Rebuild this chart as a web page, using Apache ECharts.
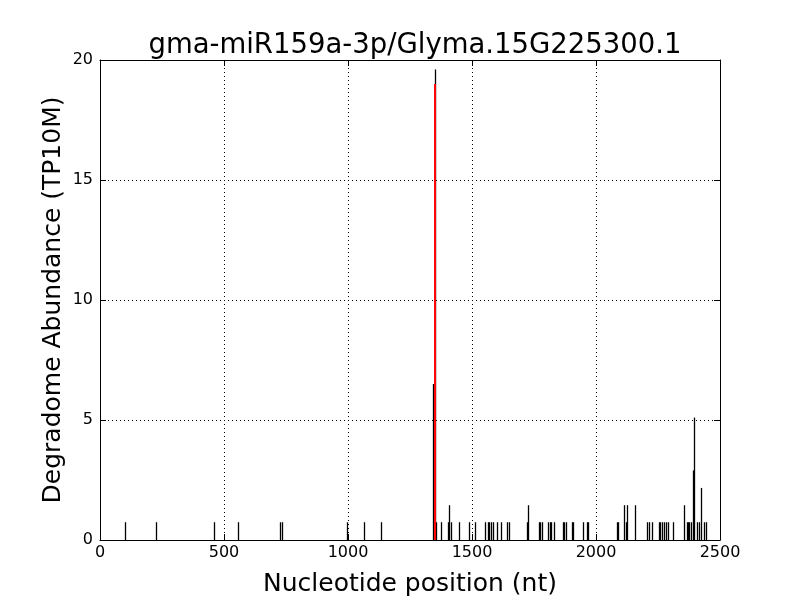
<!DOCTYPE html>
<html><head><meta charset="utf-8">
<script src="https://cdn.jsdelivr.net/npm/echarts@6/dist/echarts.min.js"></script>
<style>html,body{margin:0;padding:0;background:#fff}#c{width:800px;height:600px}</style>
</head><body><div id="c"></div>
<script>
const titleText = "gma-miR159a-3p/Glyma.15G225300.1";
const xName = "Nucleotide position (nt)";
const yName = "Degradome Abundance (TP10M)";
const xTicks = [0, 500, 1000, 1500, 2000, 2500];
const yTicks = [0, 5, 10, 15, 20];
// degradome peaks: position (nt), abundance (TP10M)
const positions = [102, 227, 462, 558, 727, 737, 996, 1066, 1136,
  1344, 1351, 1356, 1376, 1406, 1411, 1419, 1449, 1488, 1515, 1554, 1565, 1570, 1577, 1585, 1602, 1617, 1642, 1650,
  1724, 1728, 1772, 1777, 1784, 1808, 1815, 1821, 1831, 1867, 1874, 1882, 1904, 1911, 1949, 1965, 1970,
  2086, 2091, 2113, 2124, 2128, 2161, 2208, 2215, 2227, 2255, 2262, 2269, 2277, 2285, 2293, 2312,
  2355, 2368, 2374, 2379, 2386, 2393, 2396, 2409, 2417, 2427, 2437, 2444];
const abundance = [0.74, 0.74, 0.74, 0.74, 0.74, 0.74, 0.74, 0.74, 0.74,
  6.5, 19.6, 0.74, 0.74, 0.74, 1.45, 0.74, 0.74, 0.74, 0.74, 0.74, 0.74, 0.74, 0.74, 0.74, 0.74, 0.74, 0.74, 0.74,
  0.74, 1.45, 0.74, 0.74, 0.74, 0.74, 0.74, 0.74, 0.74, 0.74, 0.74, 0.74, 0.74, 0.74, 0.74, 0.74, 0.74,
  0.74, 0.74, 1.45, 0.74, 1.45, 1.45, 0.74, 0.74, 0.74, 0.74, 0.74, 0.74, 0.74, 0.74, 0.74, 0.74,
  1.45, 0.74, 0.74, 0.74, 0.74, 2.9, 5.1, 0.74, 0.74, 2.17, 0.74, 0.74];
// miRNA target cleavage site
const sitePosition = [1351];
const siteAbundance = [19.0];

const peaks = positions.map((p, i) => [p, abundance[i]]);
const site = sitePosition.map((p, i) => [p, siteAbundance[i]]);

function lineRenderer(color, width, snap) {
  return function (params, api) {
    const x = api.value(0), y = api.value(1);
    const p0 = api.coord([x, 0]);
    const p1 = api.coord([x, y]);
    const px = snap ? Math.floor(p0[0]) + 0.5 : p0[0];
    return {
      type: 'line',
      shape: { x1: px, y1: p0[1], x2: px, y2: p1[1] },
      style: { stroke: color, lineWidth: width }
    };
  };
}

const font = 'DejaVu Sans';
const plain = v => String(v);
const axisBase = {
  axisLine: { show: true, onZero: false, lineStyle: { color: '#000', width: 1 } },
  axisTick: { show: true, inside: true, length: 6, lineStyle: { color: '#000' } },
  splitLine: { show: false }
};
const chart = echarts.init(document.getElementById('c'), null, { renderer: 'canvas' });
chart.setOption({
  animation: false,
  backgroundColor: '#fff',
  title: { text: titleText, left: 410, top: 27, textAlign: 'center',
    textStyle: { fontFamily: font, fontSize: 27.5, fontWeight: 'normal', color: '#000' } },
  grid: { left: 100, right: 80, top: 60, bottom: 60, containLabel: false, outerBoundsMode: 'none' },
  xAxis: [
    Object.assign({}, axisBase, { type: 'value', min: xTicks[0], max: xTicks[xTicks.length - 1], interval: 500,
      position: 'bottom', name: xName, nameLocation: 'middle', nameGap: 32, nameMoveOverlap: false,
      nameTextStyle: { fontFamily: font, fontSize: 25, color: '#000' },
      axisLabel: { fontFamily: font, fontSize: 16, color: '#000', margin: 5, formatter: plain },
      splitLine: { show: true, lineStyle: { color: '#000', type: [1, 3], width: 1 } } }),
    Object.assign({}, axisBase, { type: 'value', min: xTicks[0], max: xTicks[xTicks.length - 1], interval: 500,
      position: 'top', axisLabel: { show: false } })
  ],
  yAxis: [
    Object.assign({}, axisBase, { type: 'value', min: yTicks[0], max: yTicks[yTicks.length - 1], interval: 5,
      position: 'left', name: yName, nameLocation: 'middle', nameGap: 34, nameMoveOverlap: false,
      nameTextStyle: { fontFamily: font, fontSize: 25, color: '#000' },
      axisLabel: { fontFamily: font, fontSize: 16, color: '#000', margin: 7, formatter: plain },
      splitLine: { show: true, lineStyle: { color: '#000', type: [1, 3], width: 1 } } }),
    Object.assign({}, axisBase, { type: 'value', min: yTicks[0], max: yTicks[yTicks.length - 1], interval: 5,
      position: 'right', axisLabel: { show: false } })
  ],
  series: [
    { type: 'custom', xAxisIndex: 0, yAxisIndex: 0, data: peaks, renderItem: lineRenderer('#000', 1.3, true), z: 2 },
    { type: 'custom', xAxisIndex: 0, yAxisIndex: 0, data: site, renderItem: lineRenderer('#ff0000', 2, false), z: 3 }
  ]
});
</script></body></html>
